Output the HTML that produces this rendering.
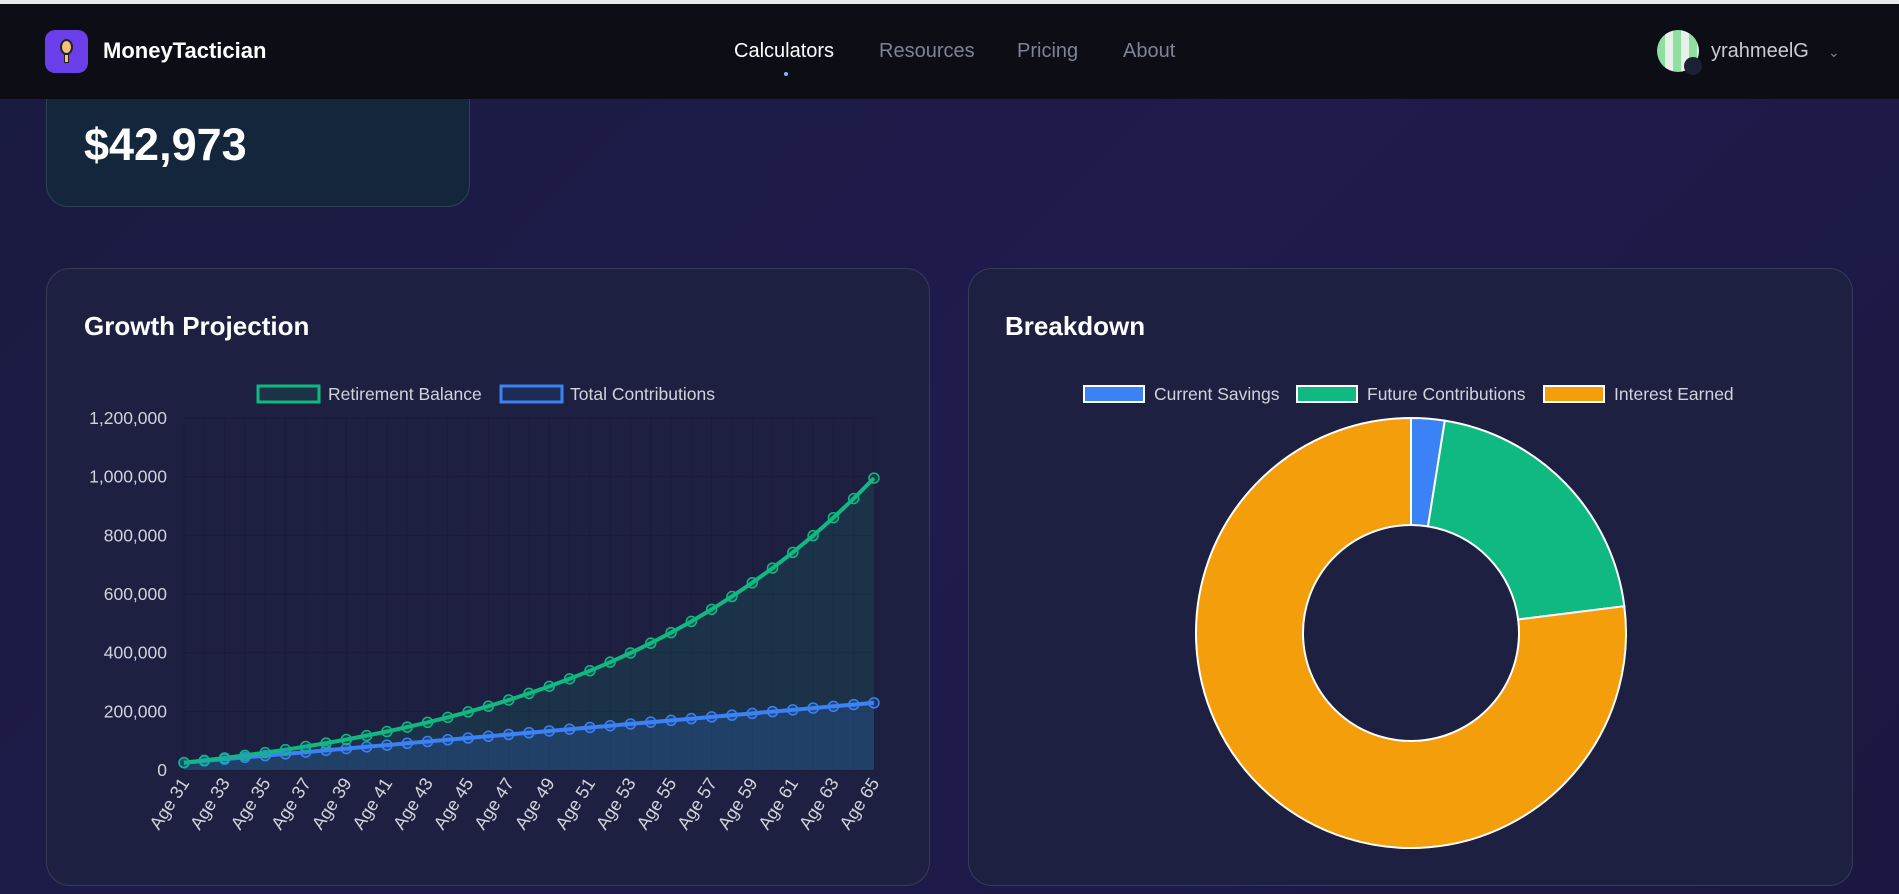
<!DOCTYPE html>
<html><head><meta charset="utf-8"><style>
*{margin:0;padding:0;box-sizing:border-box}
body{width:1899px;height:894px;overflow:hidden;background:linear-gradient(135deg,#1a1b3f 0%,#1f1b4d 50%,#1a1840 100%);font-family:"Liberation Sans",sans-serif;position:relative;color:#fff}
.top{position:absolute;left:0;top:0;width:1899px;height:4px;background:#e8e8ec}
.hdr{position:absolute;left:0;top:4px;width:1899px;height:95px;background:#0c0d15}
.logo{position:absolute;left:45px;top:30px;width:43px;height:43px;border-radius:10px;background:#6a3ee8}
.brand{position:absolute;left:103px;top:38px;font-size:22px;font-weight:bold}
.nav{position:absolute;top:40px;font-size:20px;color:#7d8396}
.card{position:absolute;background:rgba(30,33,64,0.9);border:1px solid rgba(255,255,255,0.12);border-radius:24px}
.ttl{position:absolute;font-size:26px;font-weight:bold}
</style></head><body>
<div class="top"></div>
<div class="card" style="left:46px;top:80px;width:424px;height:127px;background:#13263b;border-radius:0 0 22px 22px"></div>
<div style="position:absolute;left:84px;top:119px;font-size:45px;font-weight:bold">$42,973</div>
<div class="hdr"></div>
<div class="logo"><div style="position:absolute;left:15px;top:9px;width:13px;height:16px;border-radius:50%;background:#f6c27a;border:2px solid #222"></div><div style="position:absolute;left:19px;top:24px;width:5px;height:9px;background:#f6c27a;border:1px solid #222"></div></div>
<div class="brand">MoneyTactician</div>
<div class="nav" style="left:734px;color:#fff">Calculators</div>
<div style="position:absolute;left:784px;top:72px;width:4px;height:4px;border-radius:50%;background:#7fb8ff"></div>
<div class="nav" style="left:879px">Resources</div>
<div class="nav" style="left:1017px">Pricing</div>
<div class="nav" style="left:1123px">About</div>
<div style="position:absolute;left:1657px;top:30px;width:42px;height:42px;border-radius:50%;background:repeating-linear-gradient(90deg,#8fe0a0 0 8px,#e8f0ea 8px 16px)"></div>
<div style="position:absolute;left:1684px;top:57px;width:18px;height:18px;border-radius:50%;background:#1c2233"></div>
<div class="nav" style="left:1711px;color:#c9ccd6">yrahmeelG</div>
<div class="nav" style="left:1828px;font-size:14px;top:44px">&#8964;</div>

<div class="card" style="left:46px;top:268px;width:884px;height:618px"></div>
<div class="card" style="left:968px;top:268px;width:885px;height:618px"></div>
<div class="ttl" style="left:84px;top:311px">Growth Projection</div>
<div class="ttl" style="left:1005px;top:311px">Breakdown</div>

<svg id="s" width="1899" height="894" style="position:absolute;left:0;top:0" font-family="Liberation Sans, sans-serif"></svg>
<script>
var s=document.getElementById('s'),h='';
var x0=184,x1=874,yT=418,yB=770,n=35,st=(x1-x0)/34;
function Y(v){return yB-(v/1200000)*(yB-yT)}
for(var i=0;i<=6;i++){var y=Y(i*200000);h+='<line x1="'+x0+'" x2="'+x1+'" y1="'+y+'" y2="'+y+'" stroke="rgba(0,0,0,0.13)"/>';
h+='<text x="167" y="'+(y+6)+'" fill="#d0d3dc" font-size="17.5" text-anchor="end">'+(i*200000).toLocaleString('en-US')+'</text>';}
for(var i=0;i<n;i++){var x=x0+i*st;h+='<line x1="'+x+'" x2="'+x+'" y1="'+yT+'" y2="'+yB+'" stroke="rgba(0,0,0,0.1)"/>';}
var B=[],C=[],b=25000,c=25000;
for(var i=0;i<n;i++){if(i>0){b=b*1.069+6000;c+=6000;}B.push(b);C.push(c);}
function pts(a){return a.map(function(v,i){return (x0+i*st).toFixed(1)+','+Y(v).toFixed(1)}).join(' ')}
h+='<polygon points="'+x0+','+yB+' '+pts(B)+' '+x1+','+yB+'" fill="rgba(16,185,129,0.12)"/>';
h+='<polygon points="'+x0+','+yB+' '+pts(C)+' '+x1+','+yB+'" fill="rgba(59,130,246,0.18)"/>';
h+='<polyline points="'+pts(C)+'" fill="none" stroke="#3b82f6" stroke-width="4"/>';
h+='<polyline points="'+pts(B)+'" fill="none" stroke="#10b981" stroke-width="4"/>';
for(var i=0;i<n;i++){var x=x0+i*st;
h+='<circle cx="'+x+'" cy="'+Y(C[i])+'" r="5" fill="rgba(59,130,246,0.2)" stroke="#3b82f6" stroke-width="1.5"/>';
h+='<circle cx="'+x+'" cy="'+Y(B[i])+'" r="5" fill="rgba(16,185,129,0.2)" stroke="#10b981" stroke-width="1.5"/>';}
for(var i=0;i<n;i+=2){var x=x0+i*st+6;
h+='<text transform="translate('+x+',783) rotate(-57)" fill="#d0d3dc" font-size="18" text-anchor="end">Age '+(31+i)+'</text>';}
h+='<rect x="258" y="386" width="61" height="16" fill="#1c3347" stroke="#10b981" stroke-width="3"/><text x="328" y="400" fill="#d0d3dc" font-size="17.5">Retirement Balance</text>';
h+='<rect x="501" y="386" width="61" height="16" fill="#1e2c55" stroke="#3b82f6" stroke-width="3"/><text x="570" y="400" fill="#d0d3dc" font-size="17.5">Total Contributions</text>';
var L=[[1084,'#3b82f6','Current Savings',1154],[1297,'#10b981','Future Contributions',1367],[1544,'#f59e0b','Interest Earned',1614]];
L.forEach(function(l){h+='<rect x="'+l[0]+'" y="386" width="60" height="16" fill="'+l[1]+'" stroke="#fff" stroke-width="2"/><text x="'+l[3]+'" y="400" fill="#d0d3dc" font-size="17.5">'+l[2]+'</text>';});
var cx=1411,cy=633,R=215,r=108,tot=B[n-1],parts=[[25000,'#3b82f6'],[C[n-1]-25000,'#10b981'],[tot-C[n-1],'#f59e0b']],a=0;
function P(rad,ang){return (cx+rad*Math.sin(ang)).toFixed(2)+','+(cy-rad*Math.cos(ang)).toFixed(2)}
parts.forEach(function(p){var a2=a+p[0]/tot*2*Math.PI,lg=(a2-a)>Math.PI?1:0;
h+='<path d="M'+P(R,a)+' A'+R+','+R+' 0 '+lg+' 1 '+P(R,a2)+' L'+P(r,a2)+' A'+r+','+r+' 0 '+lg+' 0 '+P(r,a)+' Z" fill="'+p[1]+'" stroke="#fff" stroke-width="2"/>';a=a2;});
s.innerHTML=h;
</script>
</body></html>
